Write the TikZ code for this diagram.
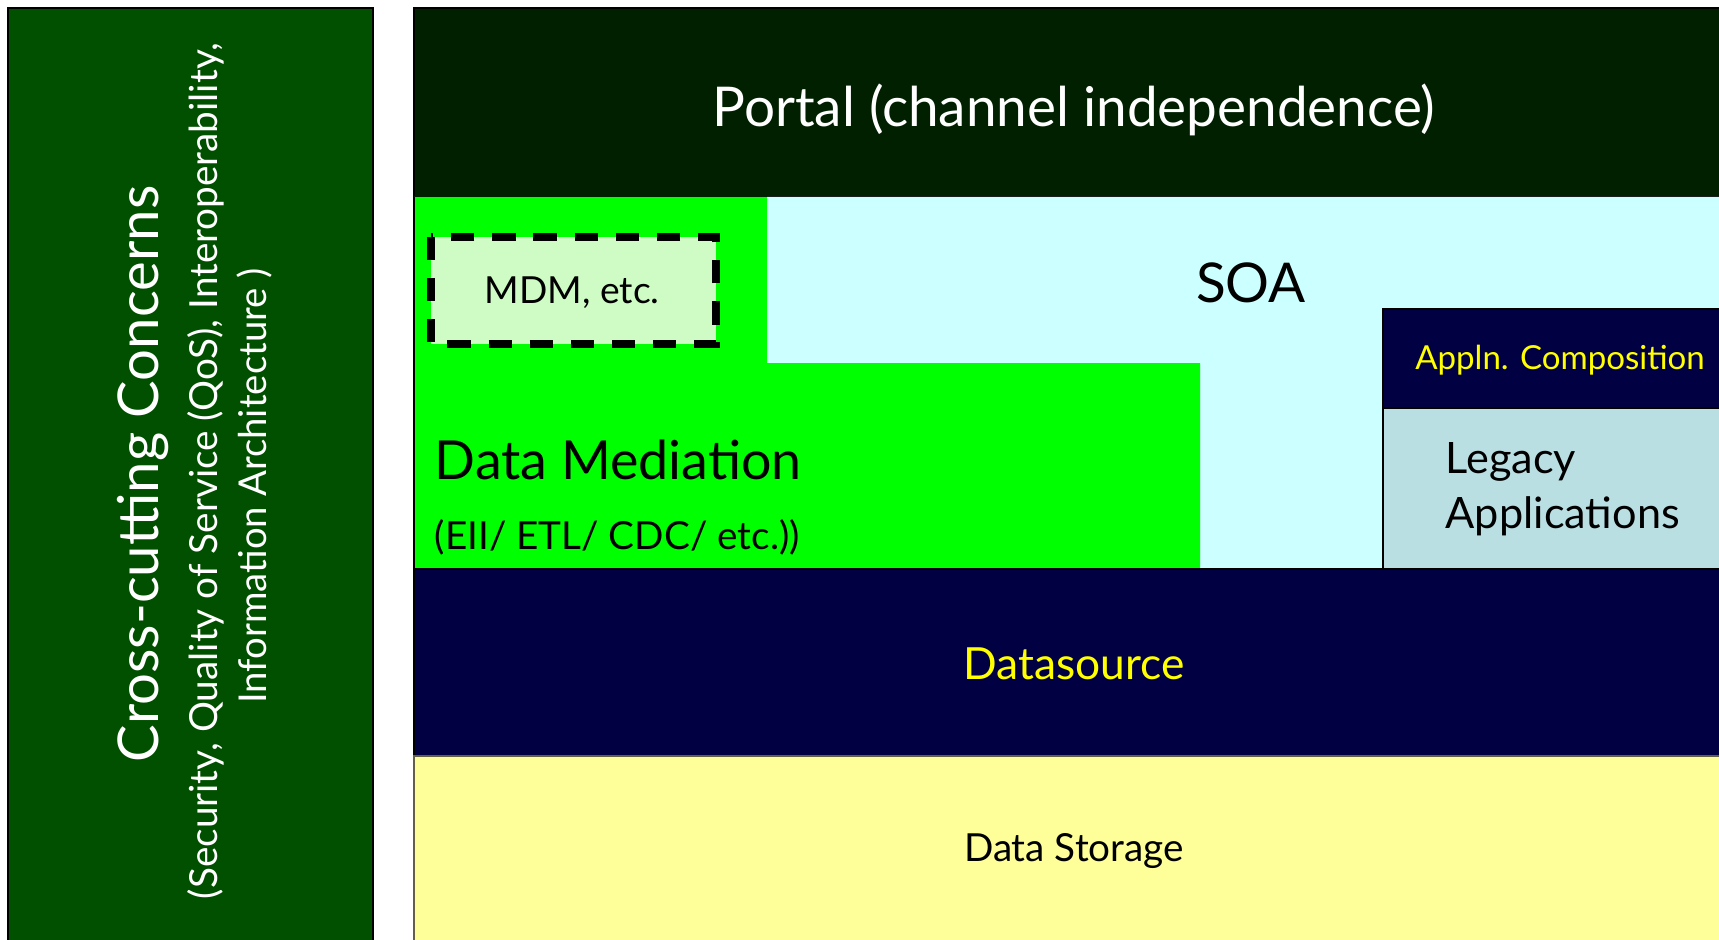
\documentclass[tikz,border=0pt]{standalone}
\usepackage{fontspec}
\setmainfont{Lato}
\usetikzlibrary{positioning}
\definecolor{forest}{RGB}{0,80,0}
\definecolor{portalgreen}{RGB}{0,32,0}
\definecolor{lime}{RGB}{0,255,0}
\definecolor{soacyan}{RGB}{204,255,255}
\definecolor{navy}{RGB}{0,0,66}
\definecolor{legacyblue}{RGB}{186,223,226}
\definecolor{paleyellow}{RGB}{255,255,153}
\definecolor{mint}{RGB}{206,252,196}
\definecolor{sunyellow}{RGB}{255,255,0}

\begin{document}
\begin{tikzpicture}[x=0.01cm,y=-0.01cm,
  layer/.style={draw=black,line width=0.6pt},
  label/.style={inner sep=0pt,font=#1},
  label/.default=\fontsize{11}{13}\selectfont,
  side/.style={rotate=90,inner sep=0pt,text=white}]
\useasboundingbox (0,0) rectangle (1719,940);
\clip (0,0) rectangle (1719,940);
% cross-cutting column
\draw[layer,fill=forest] (8,8) rectangle (373,960);
\node[side,font=\fontsize{16}{18}\selectfont] (cross) at (143,474) {Cross-cutting Concerns};
\node[side,font=\fontsize{11}{13}\selectfont] (qos) at (206,471) {(Security, Quality of Service (QoS), Interoperability,};
\node[side,font=\fontsize{10.9}{13}\selectfont] (info) at (254,486) {Information Architecture )};
% portal
\draw[layer,fill=portalgreen] (414,8) rectangle (1740,197);
\node[label=\fontsize{15.6}{18}\selectfont,text=white] (portal) at (1074,110) {Portal (channel independence)};
% soa band
\fill[soacyan] (767,197) -- (1740,197) -- (1740,309) -- (1383,309) -- (1383,572)
  -- (1200,572) -- (1200,363) -- (767,363) -- cycle;
\node[label=\fontsize{15.6}{18}\selectfont] (soa) at (1251,283) {SOA};
% data mediation
\fill[lime] (414,197) -- (767,197) -- (767,363) -- (1200,363) -- (1200,569) -- (414,569) -- cycle;
\draw[line width=0.6pt] (414,197) -- (414,569);
\draw[layer,fill=mint,line width=2pt,dash pattern=on 6.6pt off 5.1pt] (431,237) rectangle (716,344);
\node[label=\fontsize{10.6}{12}\selectfont] (mdm) at (572,293) {MDM, etc.};
\node[label=\fontsize{15.3}{18}\selectfont,anchor=west] (mediation) at (434,460) {Data Mediation};
\node[label=\fontsize{11}{13}\selectfont,anchor=west] (tools) at (434,537) {(EII/ ETL/ CDC/ etc.))};
% application stack
\draw[layer,fill=navy] (1383,309) rectangle (1740,408);
\node[label=\fontsize{9.4}{11}\selectfont,text=sunyellow] (compose) at (1560,360) {Appln. Composition};
\draw[layer,fill=legacyblue] (1383,408) rectangle (1740,572);
\node[label=\fontsize{12.3}{15.8}\selectfont,anchor=west,align=left] (legacy) at (1445,489) {Legacy\\Applications};
% datasource and storage
\draw[layer,fill=navy] (414,569) rectangle (1740,756);
\node[label=\fontsize{12.6}{15}\selectfont,text=sunyellow] (source) at (1074,664) {Datasource};
\draw[layer,draw=black!70!yellow,fill=paleyellow] (414,756) rectangle (1740,960);
\node[label=\fontsize{11}{13}\selectfont] (storage) at (1074,851) {Data Storage};
\end{tikzpicture}
\end{document}
